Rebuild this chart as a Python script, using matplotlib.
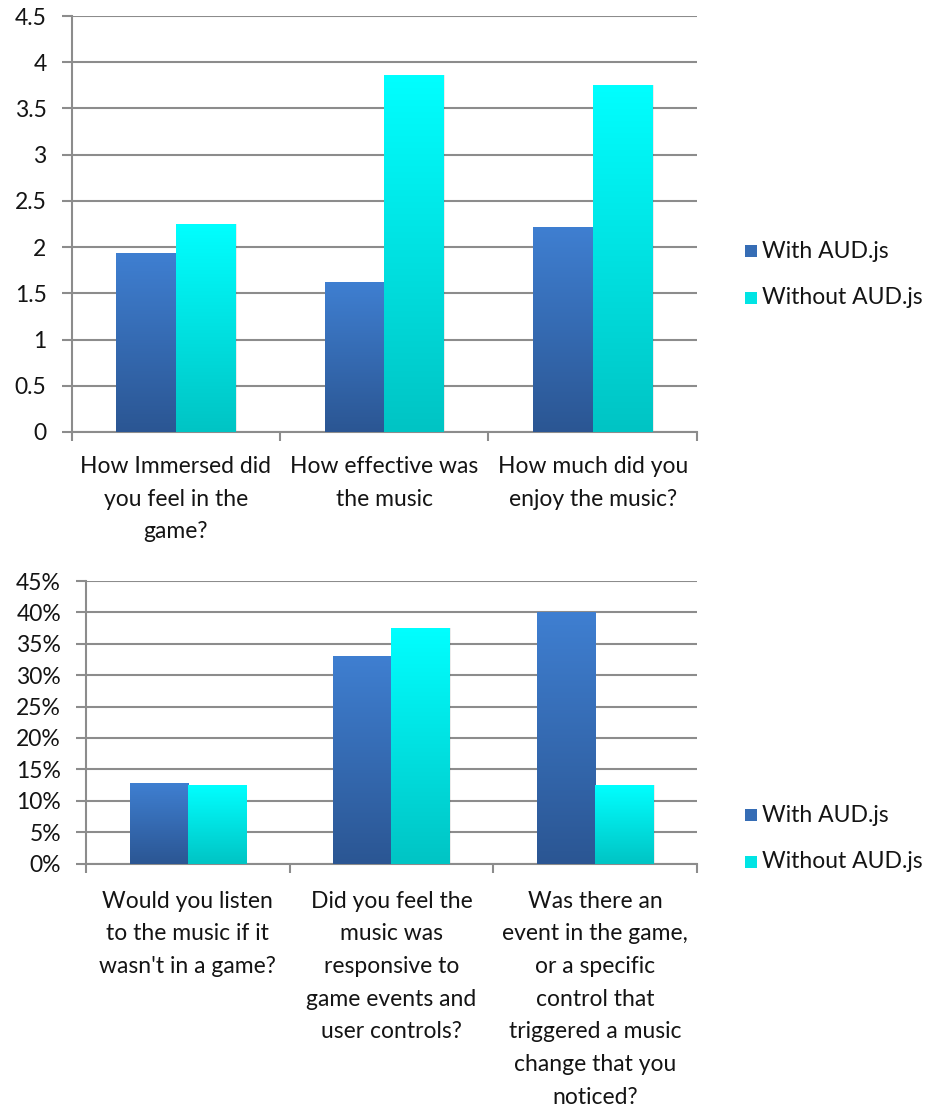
#!/usr/bin/env python3
"""Survey results: with vs without AUD.js, two grouped bar panels."""

import matplotlib
matplotlib.use("Agg")
import matplotlib.pyplot as plt
import numpy as np
from matplotlib.colors import LinearSegmentedColormap
from matplotlib.patches import Rectangle
from matplotlib.ticker import FuncFormatter, MultipleLocator

plt.rcParams["font.family"] = ["Lato", "DejaVu Sans"]

SERIES = ["With AUD.js", "Without AUD.js"]

# rating questions (mean score)
rating_questions = [
    "How Immersed did\nyou feel in the\ngame?",
    "How effective was\nthe music",
    "How much did you\nenjoy the music?",
]
rating_with = [1.93, 1.62, 2.21]
rating_without = [2.25, 3.86, 3.75]

# yes/no questions (share answering yes)
yesno_questions = [
    "Would you listen\nto the music if it\nwasn't in a game?",
    "Did you feel the\nmusic was\nresponsive to\ngame events and\nuser controls?",
    "Was there an\nevent in the game,\nor a specific\ncontrol that\ntriggered a music\nchange that you\nnoticed?",
]
yesno_with = [0.129, 0.33, 0.40]
yesno_without = [0.125, 0.375, 0.125]

BLUE_GRAD = LinearSegmentedColormap.from_list("blue", ["#2b5693", "#3f7fd1"])
CYAN_GRAD = LinearSegmentedColormap.from_list("cyan", ["#00c4c4", "#00ffff"])
GRID = "#8c8c8c"
TEXT = "#141414"
BAR_W = 1 / 3.5
FS = 16.5
PX = 0.72  # points per pixel at 100 dpi

W, H = 928, 1106


def gradient_bar(ax, x0, h, cmap):
    grad = np.linspace(0, 1, 256).reshape(-1, 1)
    # soft drop shadow
    ax.add_patch(Rectangle((x0 + 0.006, 0), BAR_W, h, facecolor="#000000",
                           alpha=0.08, linewidth=0, zorder=2))
    ax.imshow(grad, extent=[x0, x0 + BAR_W, 0, h], origin="lower",
              aspect="auto", cmap=cmap, zorder=3, interpolation="bilinear")


def draw_panel(ax, labels, with_vals, without_vals, ymax, step, fmt, label_gap):
    n = len(labels)
    x = np.arange(n)
    for i in range(n):
        gradient_bar(ax, x[i] - BAR_W, with_vals[i], BLUE_GRAD)
        gradient_bar(ax, x[i], without_vals[i], CYAN_GRAD)
    ax.set_xlim(-0.5, n - 0.5)
    ax.set_ylim(0, ymax)

    ax.yaxis.set_major_locator(MultipleLocator(step))
    ax.yaxis.set_major_formatter(FuncFormatter(fmt))
    ax.grid(axis="y", color=GRID, linewidth=1.5, zorder=0.5)
    ax.set_axisbelow(True)

    for side in ["top", "right"]:
        ax.spines[side].set_visible(False)
    for side in ["left", "bottom"]:
        ax.spines[side].set_color(GRID)
        ax.spines[side].set_linewidth(1.5)

    ax.tick_params(axis="y", length=10 * PX, width=1.5, color=GRID,
                   labelsize=FS, labelcolor=TEXT, pad=15 * PX)
    ax.set_xticks(np.arange(-0.5, n, 1.0), minor=True)
    ax.set_xticks(x)
    ax.set_xticklabels([])
    ax.tick_params(axis="x", which="major", length=0)
    ax.tick_params(axis="x", which="minor", length=9 * PX, width=1.5, color=GRID)

    for i, lab in enumerate(labels):
        ax.annotate(lab, xy=(x[i], 0), xycoords=("data", "axes fraction"),
                    xytext=(0, -label_gap * PX), textcoords="offset points",
                    ha="center", va="top", fontsize=FS, color=TEXT,
                    linespacing=1.69)


def add_legend(fig, y_top):
    for k, (name, cmap) in enumerate([(SERIES[0], BLUE_GRAD), (SERIES[1], CYAN_GRAD)]):
        yc = y_top + k * 47
        fig.patches.append(Rectangle((745 / W, 1 - (yc + 6) / H), 12 / W, 12 / H,
                                     transform=fig.transFigure, facecolor=cmap(0.55),
                                     edgecolor="none"))
        fig.text(762 / W, 1 - yc / H, name, fontsize=FS, color=TEXT,
                 ha="left", va="center")


fig = plt.figure(figsize=(W / 100, H / 100), dpi=100)

ax1 = fig.add_axes([71.5 / W, 1 - 432 / H, 625.5 / W, 416 / H])
draw_panel(ax1, rating_questions, rating_with, rating_without, 4.5, 0.5,
           lambda v, _: f"{v:g}", 24)

ax2 = fig.add_axes([86 / W, 1 - 863.5 / H, 611 / W, 282.5 / H])
draw_panel(ax2, yesno_questions, yesno_with, yesno_without, 0.45, 0.05,
           lambda v, _: f"{v * 100:.0f}%", 27)

add_legend(fig, 251)
add_legend(fig, 815)

fig.savefig("out.png", dpi=100, facecolor="white")
